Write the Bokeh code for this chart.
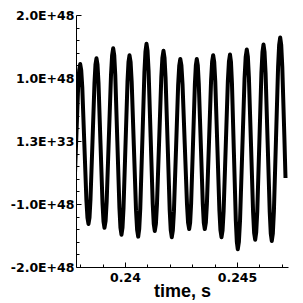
from bokeh.plotting import figure
from bokeh.models import Range1d, FixedTicker, NumeralTickFormatter
from bokeh.embed import file_html
from bokeh.resources import INLINE

# time, s
time_s = [
    0.237607, 0.237653, 0.237700, 0.237793, 0.237885, 0.237932,
    0.237978, 0.238024, 0.238071, 0.238163, 0.238256, 0.238302,
    0.238348, 0.238393, 0.238437, 0.238527, 0.238616, 0.238660,
    0.238705, 0.238750, 0.238795, 0.238884, 0.238974, 0.239018,
    0.239063, 0.239112, 0.239160, 0.239257, 0.239354, 0.239403,
    0.239451, 0.239497, 0.239544, 0.239636, 0.239729, 0.239775,
    0.239821, 0.239866, 0.239911, 0.240000, 0.240090, 0.240134,
    0.240179, 0.240228, 0.240276, 0.240373, 0.240470, 0.240519,
    0.240567, 0.240613, 0.240660, 0.240753, 0.240845, 0.240892,
    0.240938, 0.240984, 0.241031, 0.241123, 0.241216, 0.241262,
    0.241308, 0.241357, 0.241405, 0.241502, 0.241599, 0.241648,
    0.241696, 0.241742, 0.241789, 0.241882, 0.241974, 0.242021,
    0.242067, 0.242114, 0.242162, 0.242257, 0.242351, 0.242399,
    0.242446, 0.242496, 0.242546, 0.242645, 0.242745, 0.242794,
    0.242844, 0.242886, 0.242929, 0.243014, 0.243098, 0.243141,
    0.243183, 0.243228, 0.243272, 0.243362, 0.243451, 0.243495,
    0.243540, 0.243587, 0.243634, 0.243728, 0.243821, 0.243868,
    0.243915, 0.243961, 0.244008, 0.244101, 0.244193, 0.244240,
    0.244286, 0.244333, 0.244381, 0.244476, 0.244570, 0.244618,
    0.244665, 0.244709, 0.244752, 0.244839, 0.244926, 0.244970,
    0.245013, 0.245063, 0.245114, 0.245214, 0.245315, 0.245365,
    0.245415, 0.245462, 0.245509, 0.245603, 0.245696, 0.245743,
    0.245790, 0.245836, 0.245883, 0.245976, 0.246068, 0.246115,
    0.246161, 0.246207, 0.246254, 0.246346, 0.246439, 0.246485,
    0.246531, 0.246578, 0.246625, 0.246719, 0.246812, 0.246859,
    0.246906, 0.246952, 0.246999, 0.247092, 0.247143,
]

# signal, in units of 1E+48
signal_e48 = [
    -1.33, -1.23, -0.95, -0.05, 0.86, 1.13,
    1.23, 1.13, 0.86, -0.04, -0.94, -1.21,
    -1.31, -1.21, -0.92, 0.00, 0.93, 1.22,
    1.32, 1.22, 0.93, -0.03, -0.98, -1.27,
    -1.37, -1.26, -0.95, 0.06, 1.06, 1.37,
    1.48, 1.37, 1.05, 0.00, -1.05, -1.37,
    -1.48, -1.37, -1.06, -0.06, 0.95, 1.26,
    1.37, 1.26, 0.95, -0.07, -1.09, -1.40,
    -1.51, -1.39, -1.06, 0.02, 1.10, 1.43,
    1.55, 1.44, 1.12, 0.07, -0.99, -1.31,
    -1.42, -1.31, -1.00, 0.01, 1.02, 1.33,
    1.44, 1.33, 1.01, -0.04, -1.09, -1.41,
    -1.52, -1.41, -1.11, -0.11, 0.90, 1.20,
    1.31, 1.21, 0.91, -0.04, -0.99, -1.29,
    -1.39, -1.29, -0.99, -0.04, 0.91, 1.21,
    1.31, 1.21, 0.91, -0.04, -0.99, -1.29,
    -1.39, -1.29, -0.99, -0.01, 0.97, 1.27,
    1.37, 1.26, 0.95, -0.08, -1.10, -1.41,
    -1.52, -1.41, -1.10, -0.07, 0.96, 1.27,
    1.38, 1.26, 0.93, -0.17, -1.26, -1.59,
    -1.71, -1.59, -1.25, -0.13, 1.00, 1.34,
    1.46, 1.35, 1.02, -0.05, -1.12, -1.45,
    -1.56, -1.44, -1.11, -0.01, 1.09, 1.42,
    1.54, 1.42, 1.08, -0.02, -1.12, -1.46,
    -1.58, -1.46, -1.11, 0.04, 1.18, 1.53,
    1.65, 1.53, 1.19, 0.08, -0.58,
]

x_major = [0.24, 0.245]
x_minor = [0.238, 0.239, 0.241, 0.242, 0.243, 0.244, 0.246, 0.247]
y_major = [-2, -1, 0, 1, 2]
y_minor = [-1.8, -1.6, -1.4, -1.2, -0.8, -0.6, -0.4, -0.2,
           0.2, 0.4, 0.6, 0.8, 1.2, 1.4, 1.6, 1.8]
y_labels = ["-2.0E+48", "-1.0E+48", "1.3E+33", "1.0E+48", "2.0E+48"]

p = figure(frame_width=212, frame_height=252,
           x_range=Range1d(0.237813, 0.247277), y_range=Range1d(-2, 2),
           output_backend="svg", toolbar_location=None,
           min_border_left=76, min_border_top=15, min_border_right=6,
           min_border_bottom=0)

p.line(time_s, signal_e48, line_color="black", line_width=4, line_join="round")

p.xgrid.visible = False
p.ygrid.visible = False
p.outline_line_color = None
p.background_fill_color = "white"
p.border_fill_color = "white"

p.xaxis.ticker = FixedTicker(ticks=x_major, minor_ticks=x_minor)
p.xaxis.formatter = NumeralTickFormatter(format="0.[000]")
p.yaxis.ticker = FixedTicker(ticks=y_major, minor_ticks=y_minor)
p.yaxis.major_label_overrides = {k: s for k, s in zip(y_major, y_labels)}

p.xaxis.axis_label = "time, s"
p.xaxis.axis_label_text_font = "Liberation Sans"
p.xaxis.axis_label_text_font_style = "bold"
p.xaxis.axis_label_text_font_size = "18px"
p.xaxis.axis_label_text_color = "black"
p.xaxis.axis_label_standoff = -4

for ax in (p.xaxis, p.yaxis):
    ax.axis_line_color = "black"
    ax.axis_line_width = 1
    ax.major_tick_line_color = "black"
    ax.minor_tick_line_color = "black"
    ax.major_tick_in = 5
    ax.major_tick_out = 0
    ax.minor_tick_in = 3
    ax.minor_tick_out = 0
    ax.major_label_text_font = "DejaVu Sans"
    ax.major_label_text_font_style = "bold"
    ax.major_label_text_font_size = "12.5px"
    ax.major_label_text_color = "black"

p.xaxis.major_label_standoff = 5
p.yaxis.major_label_standoff = 2

open("out.html", "w").write(file_html(p, INLINE))
